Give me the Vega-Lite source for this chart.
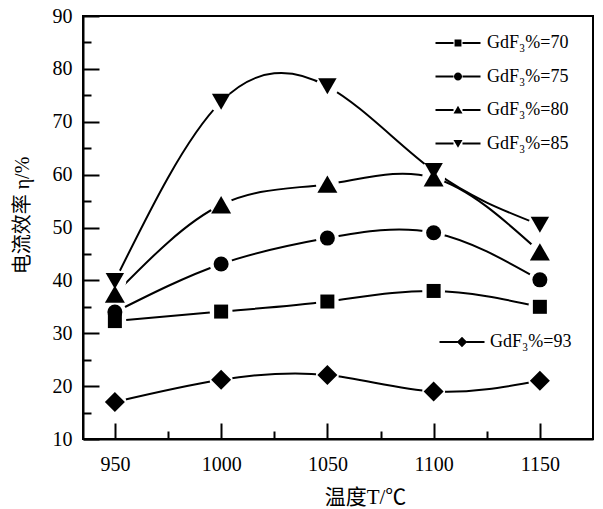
{
  "$schema": "https://vega.github.io/schema/vega-lite/v6.json",
  "width": 510,
  "height": 423,
  "autosize": {"type": "none"},
  "padding": {"left": 83, "top": 16, "right": 10, "bottom": 70},
  "background": "white",
  "config": {
    "font": "Liberation Serif",
    "view": {"stroke": "black", "strokeWidth": 2},
    "axis": {"grid": false, "domainColor": "black", "domainWidth": 2, "tickColor": "black", "tickWidth": 2, "labelColor": "black", "titleColor": "black"},
    "legend": {"labelFont": "Liberation Serif", "labelFontSize": 18, "labelColor": "black", "labelLimit": 0, "padding": 0, "rowPadding": 0, "title": null}
  },
  "data": {
    "values": [
      {"T": 950, "eta": 32.3, "g": "GdF₃%=70"},
      {"T": 1000, "eta": 34.1, "g": "GdF₃%=70"},
      {"T": 1050, "eta": 36, "g": "GdF₃%=70"},
      {"T": 1100, "eta": 38, "g": "GdF₃%=70"},
      {"T": 1150, "eta": 35, "g": "GdF₃%=70"},
      {"T": 950, "eta": 34, "g": "GdF₃%=75"},
      {"T": 1000, "eta": 43.1, "g": "GdF₃%=75"},
      {"T": 1050, "eta": 48, "g": "GdF₃%=75"},
      {"T": 1100, "eta": 49, "g": "GdF₃%=75"},
      {"T": 1150, "eta": 40.1, "g": "GdF₃%=75"},
      {"T": 950, "eta": 37.4, "g": "GdF₃%=80"},
      {"T": 1000, "eta": 54.3, "g": "GdF₃%=80"},
      {"T": 1050, "eta": 58.2, "g": "GdF₃%=80"},
      {"T": 1100, "eta": 59.4, "g": "GdF₃%=80"},
      {"T": 1150, "eta": 45.4, "g": "GdF₃%=80"},
      {"T": 950, "eta": 39.9, "g": "GdF₃%=85"},
      {"T": 1000, "eta": 73.8, "g": "GdF₃%=85"},
      {"T": 1050, "eta": 76.7, "g": "GdF₃%=85"},
      {"T": 1100, "eta": 60.7, "g": "GdF₃%=85"},
      {"T": 1150, "eta": 50.5, "g": "GdF₃%=85"},
      {"T": 950, "eta": 17, "g": "GdF₃%=93"},
      {"T": 1000, "eta": 21.2, "g": "GdF₃%=93"},
      {"T": 1050, "eta": 22.1, "g": "GdF₃%=93"},
      {"T": 1100, "eta": 19, "g": "GdF₃%=93"},
      {"T": 1150, "eta": 21, "g": "GdF₃%=93"}
    ]
  },
  "encoding": {
    "x": {"field": "T", "type": "quantitative", "scale": {"domain": [935, 1175], "nice": false, "zero": false}, "axis": null},
    "y": {"field": "eta", "type": "quantitative", "scale": {"domain": [10, 90], "nice": false, "zero": false}, "axis": null}
  },
  "layer": [
    {
      "mark": {"type": "line", "interpolate": "natural", "color": "black", "strokeWidth": 2},
      "encoding": {
        "x": {"field": "T", "type": "quantitative", "scale": {"domain": [935, 1175], "nice": false, "zero": false},
          "axis": {"orient": "bottom", "values": [950, 1000, 1050, 1100, 1150], "format": "d", "tickSize": -16, "labelPadding": 31, "labelFontSize": 20, "labelFont": "Liberation Serif",
            "title": "温度T/℃", "titleFont": "Liberation Serif, Noto Sans CJK SC", "titleFontSize": 21, "titleFontWeight": "normal", "titleX": 282, "titleY": 58, "titleAlign": "center", "titleBaseline": "middle"}},
        "y": {"field": "eta", "type": "quantitative", "scale": {"domain": [10, 90], "nice": false, "zero": false},
          "axis": {"orient": "left", "values": [10, 20, 30, 40, 50, 60, 70, 80, 90], "tickSize": -16, "labelPadding": 27, "labelFontSize": 20, "labelFont": "Liberation Serif", "labelFlush": false,
            "title": "电流效率 η/%", "titleFont": "Liberation Serif, Noto Sans CJK SC", "titleFontSize": 20, "titleFontWeight": "normal", "titleAngle": -90, "titleX": -61, "titleY": 199, "titleAlign": "center", "titleBaseline": "middle"}},
        "detail": {"field": "g", "type": "nominal"}
      }
    },
    {
      "mark": {"type": "point", "shape": "circle", "filled": true, "fill": "white", "strokeWidth": 0, "opacity": 1, "size": 520},
      "encoding": {
        "x": {"field": "T", "type": "quantitative", "scale": {"domain": [935, 1175], "nice": false, "zero": false},
          "axis": {"orient": "bottom", "values": [975, 1025, 1075, 1125], "tickSize": -8, "labels": false, "domain": false, "title": null}},
        "y": {"field": "eta", "type": "quantitative", "scale": {"domain": [10, 90], "nice": false, "zero": false},
          "axis": {"orient": "left", "values": [15, 25, 35, 45, 55, 65, 75, 85], "tickSize": -8, "labels": false, "domain": false, "title": null}}
      }
    },
    {
      "transform": [{"filter": "datum.g == 'GdF₃%=70'"}],
      "mark": {"type": "point", "shape": "square", "filled": true, "color": "black", "opacity": 1, "size": 196}
    },
    {
      "transform": [{"filter": "datum.g == 'GdF₃%=75'"}],
      "mark": {"type": "point", "shape": "circle", "filled": true, "color": "black", "opacity": 1, "size": 225}
    },
    {
      "transform": [{"filter": "datum.g == 'GdF₃%=80'"}],
      "mark": {"type": "point", "shape": "triangle-up", "filled": true, "color": "black", "opacity": 1, "size": 400}
    },
    {
      "transform": [{"filter": "datum.g == 'GdF₃%=85'"}],
      "mark": {"type": "point", "shape": "triangle-down", "filled": true, "color": "black", "opacity": 1, "size": 340}
    },
    {
      "transform": [{"filter": "datum.g == 'GdF₃%=93'"}],
      "mark": {"type": "point", "shape": "diamond", "filled": true, "color": "black", "opacity": 1, "size": 400}
    },
    {
      "transform": [{"filter": "datum.g != 'GdF₃%=93'"}],
      "mark": {"type": "point", "filled": true, "color": "black", "opacity": 0},
      "encoding": {
        "shape": {"field": "g", "type": "nominal",
          "scale": {"domain": ["GdF₃%=70", "GdF₃%=75", "GdF₃%=80", "GdF₃%=85"],
            "range": [
              "M-1.5,-0.07L-0.3,-0.07L-0.3,0.07L-1.5,0.07ZM0.3,-0.07L1.5,-0.07L1.5,0.07L0.3,0.07ZM-0.23,-0.23L0.23,-0.23L0.23,0.23L-0.23,0.23Z",
              "M-1.5,-0.07L-0.3,-0.07L-0.3,0.07L-1.5,0.07ZM0.3,-0.07L1.5,-0.07L1.5,0.07L0.3,0.07ZM-0.27,0A0.27,0.27,0,1,0,0.27,0A0.27,0.27,0,1,0,-0.27,0Z",
              "M-1.5,-0.07L-0.3,-0.07L-0.3,0.07L-1.5,0.07ZM0.3,-0.07L1.5,-0.07L1.5,0.07L0.3,0.07ZM0,-0.29L0.3,0.23L-0.3,0.23Z",
              "M-1.5,-0.07L-0.3,-0.07L-0.3,0.07L-1.5,0.07ZM0.3,-0.07L1.5,-0.07L1.5,0.07L0.3,0.07ZM0,0.29L0.3,-0.23L-0.3,-0.23Z"
            ]},
          "legend": {"orient": "none", "legendX": 360, "legendY": 12, "symbolSize": 900, "symbolStrokeWidth": 0, "symbolOpacity": 1, "labelOffset": 14, "rowPadding": 9.5}
        }
      }
    },
    {
      "transform": [{"filter": "datum.g == 'GdF₃%=93'"}],
      "mark": {"type": "point", "filled": true, "stroke": "black", "strokeWidth": 2, "opacity": 0},
      "encoding": {
        "color": {"field": "g", "type": "nominal", "scale": {"domain": ["GdF₃%=93"], "range": ["black"]},
          "legend": {"orient": "none", "legendX": 363, "legendY": 310, "symbolType": "M-1.5,0L-0.3,0M0.3,0L1.5,0M-0.25,0L0,-0.25L0.25,0L0,0.25Z", "symbolSize": 900, "symbolStrokeWidth": 2, "symbolFillColor": "black", "symbolStrokeColor": "black", "symbolOpacity": 1, "labelOffset": 12,
            "encode": {"symbols": {"update": {"opacity": {"value": 1}, "fill": {"value": "black"}, "stroke": {"value": "black"}, "strokeWidth": {"value": 2}}}}}
        }
      }
    }
  ],
  "resolve": {"scale": {"x": "independent", "y": "independent"}}
}
